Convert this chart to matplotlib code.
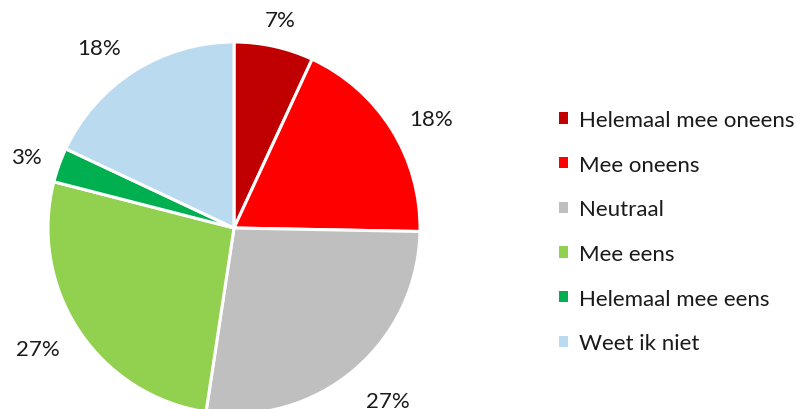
import matplotlib.pyplot as plt
import matplotlib.transforms as mtransforms
from matplotlib.patches import Patch

plt.rcParams['font.family'] = ['Lato', 'DejaVu Sans']

categories = ["Helemaal mee oneens", "Mee oneens", "Neutraal", "Mee eens",
              "Helemaal mee eens", "Weet ik niet"]
values = [6.9, 18.4, 27.1, 26.6, 3.0, 18.0]
colors = ["#C00000", "#FF0000", "#BFBFBF", "#92D050", "#00B050", "#BADBEF"]

W, H = 797, 410
fig = plt.figure(figsize=(W / 100, H / 100), dpi=100)

# pie centre (234, 229) px, radius 186 px
cx, cy, r = 234, 229, 186
ax = fig.add_axes([(cx - r) / W, (H - cy - r) / H, 2 * r / W, 2 * r / H])

wedges, texts, autotexts = ax.pie(
    values, colors=colors, startangle=90, counterclock=False,
    autopct=lambda p: "{0:.0f}%".format(p), pctdistance=1.2,
    wedgeprops=dict(edgecolor="white", linewidth=2.2),
    textprops=dict(fontsize=16, color="#1a1a1a"))
ax.set_xlim(-1, 1)
ax.set_ylim(-1, 1)
ax.set_aspect("auto")
ax.axis("off")

# nudge the labels the way Excel places them (pixels, y up)
nudges = [(-2, -10), (8, -9), (10, -2), (-10, 2), (2, -5), (-15, -8)]
for t, (dx, dy) in zip(autotexts, nudges):
    t.set_transform(mtransforms.offset_copy(ax.transData, fig=fig,
                                            x=dx, y=dy, units="dots"))

handles = [Patch(facecolor=c, edgecolor="none") for c in colors]
fig.legend(handles, categories, loc="upper left",
           bbox_to_anchor=(559 / W, 1 - 111 / H), frameon=False,
           fontsize=16, handlelength=0.42, handleheight=0.42,
           handletextpad=0.5, labelspacing=1.11, borderpad=0,
           borderaxespad=0, labelcolor="#1a1a1a")

fig.savefig("out.png", dpi=100)
